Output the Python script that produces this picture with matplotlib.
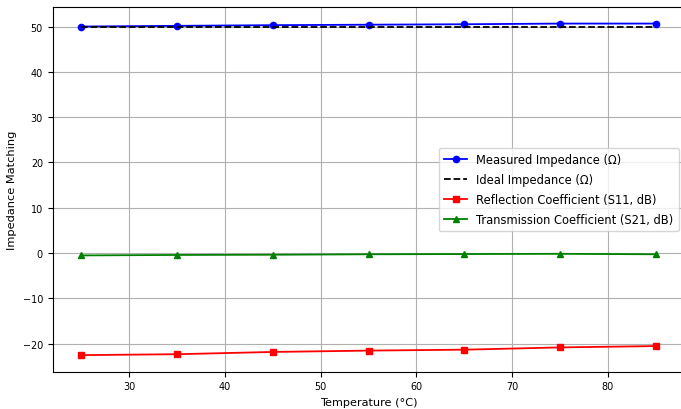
import matplotlib
matplotlib.use("Agg")
import matplotlib.pyplot as plt

# temperature sweep and measured RF parameters
temperature = [25, 35, 45, 55, 65, 75, 85]
measured_impedance = [50.0, 50.15, 50.3, 50.4, 50.5, 50.65, 50.65]
ideal_impedance = [50, 50, 50, 50, 50, 50, 50]
s11_db = [-22.5, -22.3, -21.8, -21.5, -21.3, -20.8, -20.5]
s21_db = [-0.5, -0.4, -0.35, -0.25, -0.2, -0.15, -0.25]

plt.rcParams['font.size'] = 6.9
plt.rcParams['lines.linewidth'] = 1.3

fig = plt.figure(figsize=(6.81, 4.10), dpi=100)
ax = fig.add_axes([52.7 / 681, 1 - 372.7 / 410, (684.5 - 52.7) / 681, (372.7 - 8) / 410])

ax.plot(temperature, measured_impedance, marker='o', color='blue', markersize=4.5,
        label='Measured Impedance (Ω)')
ax.plot(temperature, ideal_impedance, linestyle='--', color='black',
        label='Ideal Impedance (Ω)')
ax.plot(temperature, s11_db, marker='s', color='red', markersize=4.5,
        label='Reflection Coefficient (S11, dB)')
ax.plot(temperature, s21_db, marker='^', color='green', markersize=4.5,
        label='Transmission Coefficient (S21, dB)')

ax.set_xlabel('Temperature (°C)', fontsize=8.1)
ax.set_ylabel('Impedance Matching', fontsize=8.2)
ax.grid(True)
ax.legend(loc='center right', fontsize=8.3, labelspacing=0.6, borderpad=0.45)

fig.savefig('out.png', dpi=100)
